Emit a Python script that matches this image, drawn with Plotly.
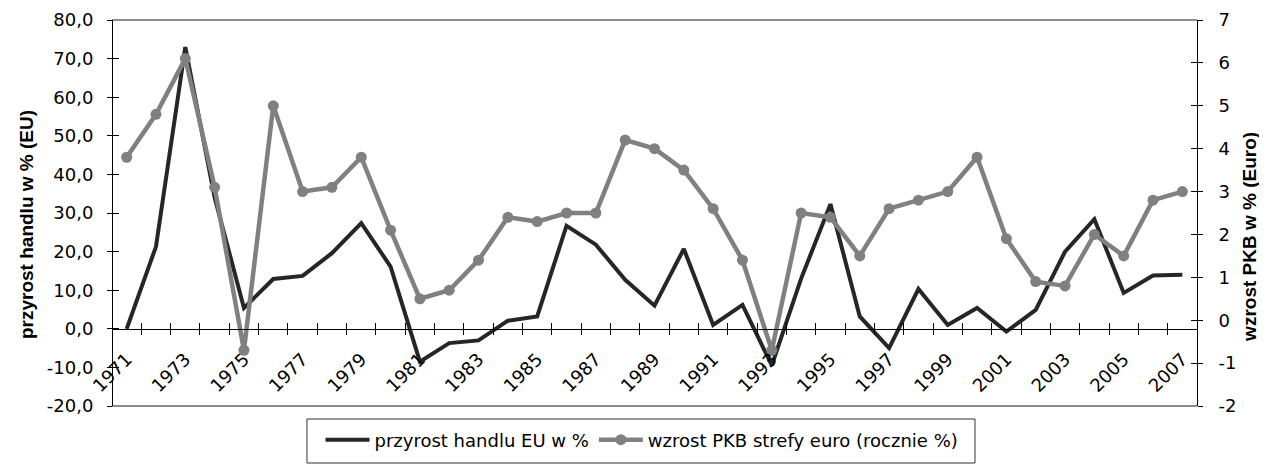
import plotly.graph_objects as go

# ---- data ----
years = list(range(1971, 2008))
trade_eu = [0.0, 21.3, 73.0, 34.0, 5.4, 12.9, 13.7, 19.6, 27.4, 16.1,
            -8.5, -3.7, -3.0, 2.1, 3.2, 26.7, 21.8, 12.7, 6.0, 20.7,
            1.0, 6.2, -9.5, 13.0, 32.3, 3.2, -5.0, 10.3, 1.0, 5.4,
            -0.7, 4.9, 20.0, 28.4, 9.3, 13.8, 14.0]
gdp_euro = [3.8, 4.8, 6.1, 3.1, -0.7, 5.0, 3.0, 3.1, 3.8, 2.1,
            0.5, 0.7, 1.4, 2.4, 2.3, 2.5, 2.5, 4.2, 4.0, 3.5,
            2.6, 1.4, -0.7, 2.5, 2.4, 1.5, 2.6, 2.8, 3.0, 3.8,
            1.9, 0.9, 0.8, 2.0, 1.5, 2.8, 3.0]

name_trade = "przyrost handlu EU w %"
name_gdp = "wzrost PKB strefy euro (rocznie %)"
title_left = "przyrost handlu w % (EU)"
title_right = "wzrost PKB w % (Euro)"

left_ticks = list(range(-20, 81, 10))
right_ticks = list(range(-2, 8))
x_labels = [str(y) if (y - years[0]) % 2 == 0 else "" for y in years]

FONT = "DejaVu Sans, Liberation Sans, Arial, sans-serif"
TFONT = "Liberation Sans, Arial, sans-serif"
BLACK = "#262626"
GRAY = "#808080"

fig = go.Figure()
fig.add_trace(go.Scatter(x=years, y=trade_eu, name=name_trade, mode="lines",
                         line=dict(color=BLACK, width=4), xaxis="x", yaxis="y"))
fig.add_trace(go.Scatter(x=years, y=gdp_euro, name=name_gdp, mode="lines+markers",
                         line=dict(color=GRAY, width=4.5),
                         marker=dict(color=GRAY, size=11, symbol="circle"),
                         xaxis="x", yaxis="y2"))
# helper (empty) traces so that the tick-crossing overlay axes are drawn
for xa, ya in (("x2", "y"), ("x", "y3"), ("x", "y4")):
    fig.add_trace(go.Scatter(x=[], y=[], xaxis=xa, yaxis=ya, showlegend=False,
                             hoverinfo="skip"))

common_x = dict(type="category", categoryorder="array", categoryarray=years,
                range=[-0.5, len(years) - 0.5], anchor="free", position=0.2,
                tickson="boundaries", tickmode="array", tickvals=years,
                showgrid=False, zeroline=False, tickcolor="black", tickwidth=1,
                automargin=False)

# page has an 8px body margin, so the figure is 16px smaller than the window
fig.update_layout(
    width=1251, height=456,
    margin=dict(l=104, r=62, t=12, b=58, autoexpand=False),
    paper_bgcolor="white", plot_bgcolor="white",
    font=dict(family=FONT, color="black"),
    showlegend=True,
    xaxis=dict(**common_x, showline=True, linecolor="black", linewidth=1,
               ticks="outside", ticklen=5, ticktext=x_labels, tickangle=-45,
               tickfont=dict(size=18, family=FONT), ticklabelstandoff=12),
    xaxis2=dict(**common_x, overlaying="x", matches="x", showline=False,
                ticks="inside", ticklen=6, showticklabels=False),
    yaxis=dict(range=[-20, 80], tickmode="array", tickvals=left_ticks,
               ticktext=[f"{v:.1f}".replace(".", ",") for v in left_ticks],
               ticks="outside", ticklen=5, tickcolor="black",
               showline=True, linecolor="black", linewidth=1,
               showgrid=False, zeroline=False, anchor="free", position=0,
               tickfont=dict(size=18, family=FONT), ticklabelstandoff=10,
               automargin=False),
    yaxis3=dict(overlaying="y", matches="y", side="left", anchor="free", position=0,
                tickmode="array", tickvals=left_ticks, ticks="inside", ticklen=6,
                tickcolor="black", showticklabels=False, showline=False,
                showgrid=False, zeroline=False, automargin=False),
    yaxis2=dict(range=[-2, 7], tickmode="array", tickvals=right_ticks,
                ticktext=[str(v) for v in right_ticks],
                overlaying="y", side="right", anchor="free", position=1,
                ticks="outside", ticklen=5, tickcolor="black",
                showline=True, linecolor="black", linewidth=1,
                showgrid=False, zeroline=False,
                tickfont=dict(size=18, family=FONT), ticklabelstandoff=12,
                automargin=False),
    yaxis4=dict(overlaying="y", matches="y2", side="right", anchor="free", position=1,
                tickmode="array", tickvals=right_ticks, ticks="inside", ticklen=6,
                tickcolor="black", showticklabels=False, showline=False,
                showgrid=False, zeroline=False, automargin=False),
    legend=dict(orientation="h", x=0.4885, xanchor="center", y=-0.088,
                yanchor="middle", font=dict(size=18, family=FONT),
                itemwidth=44,
                bgcolor="rgba(0,0,0,0)", borderwidth=0),
    shapes=[
        dict(type="line", xref="paper", yref="paper", x0=0, x1=1, y0=1, y1=1,
             line=dict(color="#8c8c8c", width=2), layer="below"),
        dict(type="line", xref="paper", yref="paper", x0=0, x1=1, y0=0, y1=0,
             line=dict(color="#8c8c8c", width=2), layer="below"),
        dict(type="rect", xref="paper", yref="paper", x0=0.1797, x1=0.7954,
             y0=-0.0337, y1=-0.1477, line=dict(color="#333333", width=1),
             fillcolor="rgba(0,0,0,0)"),
    ],
    annotations=[
        dict(text=f"<b>{title_left}</b>", textangle=-90, xref="paper", yref="paper",
             x=-0.0783, y=0.469, xanchor="center", yanchor="middle", showarrow=False,
             font=dict(size=19, family=TFONT)),
        dict(text=f"<b>{title_right}</b>", textangle=-90, xref="paper", yref="paper",
             x=1.0488, y=0.438, xanchor="center", yanchor="middle", showarrow=False,
             font=dict(size=19, family=TFONT)),
    ],
)

fig.write_html("out.html", config={"displayModeBar": False})
